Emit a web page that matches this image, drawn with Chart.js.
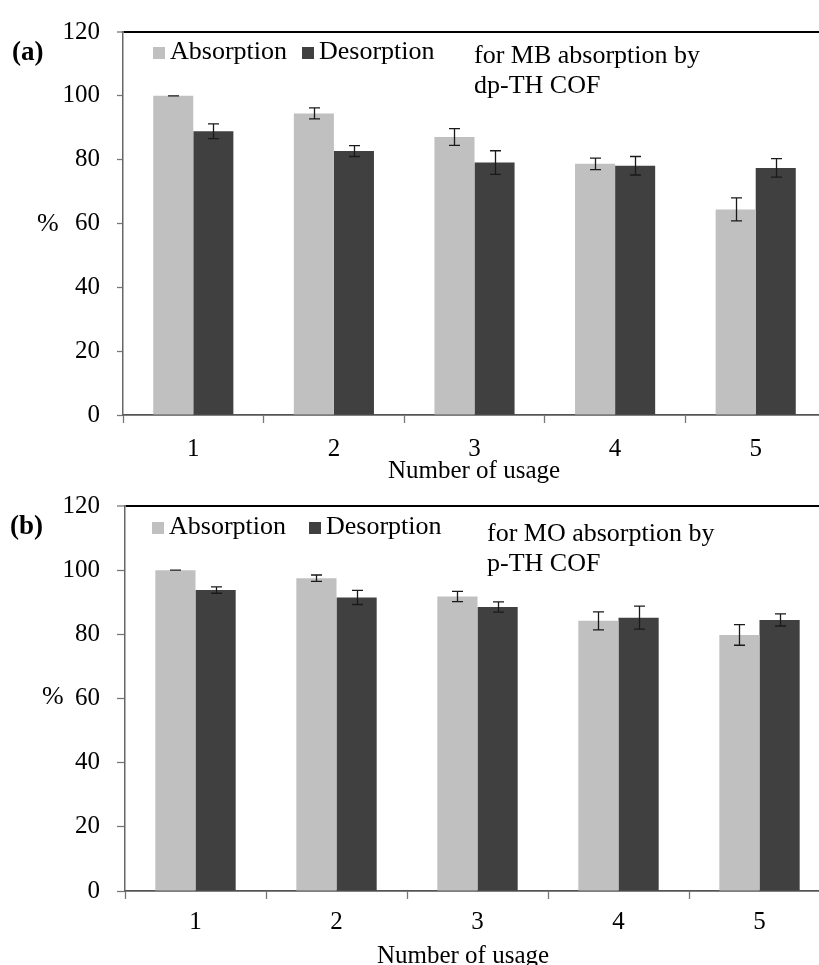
<!DOCTYPE html>
<html>
<head>
<meta charset="utf-8">
<script src="https://cdn.jsdelivr.net/npm/chart.js@4.4.1/dist/chart.umd.min.js"></script>
<style>
  html, body { margin: 0; padding: 0; background: #fff; overflow: hidden; }
  #wrap { position: relative; width: 819px; height: 965px; overflow: hidden; }
  canvas { position: absolute; left: 0; }
</style>
</head>
<body>
<div id="wrap">
  <canvas id="chartA" width="826" height="488" style="top:0px"></canvas>
  <canvas id="chartB" width="830" height="491" style="top:474px"></canvas>
</div>
<script>
// data
const usage = ['1', '2', '3', '4', '5'];
const yTicks = [0, 20, 40, 60, 80, 100, 120];

// (a) MB on dp-TH COF
const absorptionA    = [100, 94.5, 87.1, 78.7, 64.4];
const absorptionErrA = [0, 1.7, 2.6, 1.8, 3.6];
const desorptionA    = [88.9, 82.7, 79.1, 78.1, 77.4];
const desorptionErrA = [2.3, 1.7, 3.7, 2.9, 2.9];

// (b) MO on p-TH COF
const absorptionB    = [100, 97.5, 91.8, 84.2, 79.8];
const absorptionErrB = [0, 1.0, 1.6, 2.8, 3.2];
const desorptionB    = [93.8, 91.5, 88.5, 85.2, 84.5];
const desorptionErrB = [1.0, 2.2, 1.6, 3.6, 1.9];

const serif = '"Liberation Serif", "Times New Roman", serif';
const lightGray = '#c0c0c0';
const darkGray = '#404040';

// error bars drawn from the dataset values through the y scale
const errorBars = {
    id: 'errorBars',
    afterDatasetsDraw(chart) {
        const ctx = chart.ctx;
        const y = chart.scales.y;
        ctx.save();
        ctx.strokeStyle = '#1a1a1a';
        ctx.lineWidth = 1.3;
        chart.data.datasets.forEach((ds, i) => {
            const meta = chart.getDatasetMeta(i);
            meta.data.forEach((bar, j) => {
                const v = ds.data[j];
                const e = ds.errors[j];
                const top = y.getPixelForValue(v + e);
                const bot = y.getPixelForValue(v - e);
                const cx = Math.round(bar.x) + 0.5;
                ctx.beginPath();
                ctx.moveTo(cx, top); ctx.lineTo(cx, bot);
                ctx.moveTo(cx - 5.5, top); ctx.lineTo(cx + 5.5, top);
                ctx.moveTo(cx - 5.5, bot); ctx.lineTo(cx + 5.5, bot);
                ctx.stroke();
            });
        });
        ctx.restore();
    }
};

// legend, panel letter, % label, note and axis title
const notes = {
    id: 'notes',
    afterDraw(chart, args, n) {
        const ctx = chart.ctx;
        ctx.save();
        ctx.textBaseline = 'alphabetic';
        ctx.textAlign = 'left';

        // legend
        ctx.font = '26px ' + serif;
        let x = n.legendX;
        chart.data.datasets.forEach((ds, i) => {
            ctx.fillStyle = ds.backgroundColor;
            ctx.fillRect(x, n.legendY - 12, 12, 12);
            ctx.fillStyle = '#000';
            ctx.fillText(ds.label, x + 17, n.legendY);
            x += 17 + ctx.measureText(ds.label).width + n.legendGap;
        });

        // note
        n.lines.forEach((line, i) => {
            ctx.fillText(line, n.noteX, n.noteY + i * 30);
        });

        // % label
        ctx.fillText('%', n.pctX, n.pctY);

        // panel letter
        ctx.font = 'bold 27px ' + serif;
        ctx.fillText(n.panel, n.panelX, n.panelY);

        // axis title
        ctx.font = '25px ' + serif;
        ctx.textAlign = 'center';
        ctx.fillText(n.title, n.titleX, n.titleY);
        ctx.restore();
    }
};

function makeChart(id, abs, absErr, des, desErr, p) {
    const ctx = document.getElementById(id).getContext('2d');
    return new Chart(ctx, {
        type: 'bar',
        data: {
            labels: usage,
            datasets: [
                { label: 'Absorption', data: abs, errors: absErr, backgroundColor: lightGray },
                { label: 'Desorption', data: des, errors: desErr, backgroundColor: darkGray }
            ]
        },
        plugins: [errorBars, notes],
        options: {
            responsive: false,
            animation: false,
            devicePixelRatio: 1,
            layout: { padding: { top: 25, left: 0, right: 0, bottom: 0 } },
            datasets: {
                bar: { barPercentage: 1.0, categoryPercentage: 0.57, borderWidth: 0 }
            },
            plugins: {
                legend: { display: false },
                tooltip: { enabled: false },
                notes: p.notes
            },
            scales: {
                x: {
                    offset: true,
                    afterFit: (s) => { s.height = p.xHeight; },
                    grid: {
                        offset: true,
                        drawOnChartArea: false,
                        tickLength: 8,
                        tickColor: '#777',
                        tickWidth: 1.3
                    },
                    border: { display: true, color: '#555', width: 1.7 },
                    ticks: {
                        color: '#000',
                        padding: p.xPad,
                        font: { family: serif, size: 25 }
                    }
                },
                y: {
                    min: yTicks[0],
                    max: yTicks[yTicks.length - 1],
                    afterFit: (s) => { s.width = p.yWidth; },
                    afterBuildTicks: (s) => { s.ticks = yTicks.map(v => ({ value: v })); },
                    grid: {
                        drawOnChartArea: true,
                        color: (c) => c.tick && c.tick.value === 120 ? '#000' : 'rgba(0,0,0,0)',
                        lineWidth: (c) => c.tick && c.tick.value === 120 ? 2 : 1,
                        tickLength: p.yTickLen,
                        tickColor: '#777',
                        tickWidth: 1.3
                    },
                    border: { display: true, color: '#666', width: 1.5 },
                    ticks: {
                        color: '#000',
                        padding: 17,
                        font: { family: serif, size: 25 }
                    }
                }
            }
        }
    });
}

makeChart('chartA', absorptionA, absorptionErrA, desorptionA, desorptionErrA, {
    xHeight: 73, xPad: 11, yWidth: 123, yTickLen: 6,
    notes: {
        panel: '(a)', panelX: 12, panelY: 60,
        pctX: 37, pctY: 231,
        legendX: 153, legendY: 59, legendGap: 15,
        lines: ['for MB absorption by', 'dp-TH COF'], noteX: 474, noteY: 63,
        title: 'Number of usage', titleX: 474, titleY: 478
    }
});

makeChart('chartB', absorptionB, absorptionErrB, desorptionB, desorptionErrB, {
    xHeight: 74, xPad: 8, yWidth: 125, yTickLen: 8,
    notes: {
        panel: '(b)', panelX: 10, panelY: 60,
        pctX: 42, pctY: 230,
        legendX: 152, legendY: 60, legendGap: 23,
        lines: ['for MO absorption by', 'p-TH COF'], noteX: 487, noteY: 67,
        title: 'Number of usage', titleX: 463, titleY: 489
    }
});
</script>
</body>
</html>
